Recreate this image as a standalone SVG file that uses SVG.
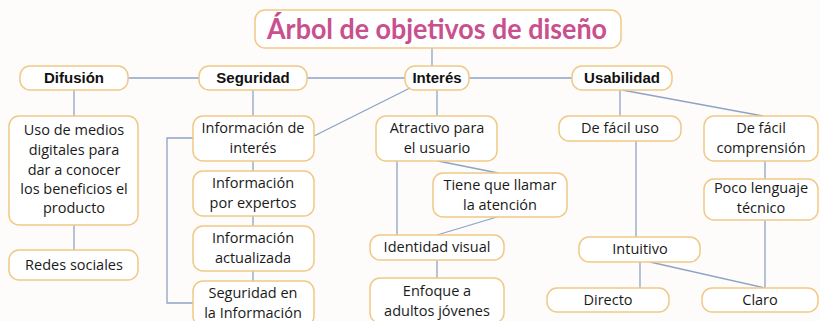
<svg xmlns="http://www.w3.org/2000/svg" width="820" height="321" viewBox="0 0 820 321">
<style>
.bg{fill:#fdfcfa}
.box{fill:#ffffff;stroke:#f0c987;stroke-width:1.5}
.t{font-family:"Open Sans","DejaVu Sans",sans-serif;font-size:14.5px;fill:#1a1a1a;text-anchor:middle}
.h{font-family:"Liberation Sans",Arial,sans-serif;font-size:15px;font-weight:bold;fill:#111;text-anchor:middle}
.title{font-family:"Lato","Noto Sans",sans-serif;font-size:28px;font-weight:bold;fill:#c9508e;text-anchor:middle}
.c{stroke:#8ea3c6;stroke-width:1.3;fill:none}
</style>
<rect class="bg" x="0" y="0" width="820" height="321"/>
<g id="connectors">
<line class="c" x1="432" y1="48" x2="432" y2="66"/>
<line class="c" x1="128" y1="78" x2="199" y2="78"/>
<line class="c" x1="307" y1="78" x2="405" y2="78"/>
<line class="c" x1="469" y1="78" x2="572" y2="78"/>
<line class="c" x1="74" y1="90" x2="74" y2="116"/>
<line class="c" x1="74" y1="225" x2="74" y2="250"/>
<line class="c" x1="253" y1="90" x2="253" y2="116"/>
<line class="c" x1="253" y1="161" x2="253" y2="171"/>
<line class="c" x1="253" y1="216" x2="253" y2="226"/>
<line class="c" x1="253" y1="271" x2="253" y2="281"/>
<polyline class="c" points="193,138 167,138 167,303 193,303"/>
<line class="c" x1="410" y1="88" x2="314" y2="136"/>
<line class="c" x1="437" y1="90" x2="437" y2="116"/>
<line class="c" x1="438" y1="161" x2="498" y2="173"/>
<line class="c" x1="397" y1="161" x2="397" y2="235"/>
<line class="c" x1="497" y1="217" x2="437" y2="235"/>
<line class="c" x1="437" y1="260" x2="437" y2="278"/>
<line class="c" x1="620" y1="90" x2="620" y2="116"/>
<line class="c" x1="622" y1="90" x2="763" y2="116"/>
<line class="c" x1="636" y1="141" x2="636" y2="237"/>
<line class="c" x1="765" y1="161" x2="765" y2="179"/>
<line class="c" x1="765" y1="220" x2="765" y2="288"/>
<line class="c" x1="640" y1="262" x2="640" y2="288"/>
<line class="c" x1="650" y1="262" x2="765" y2="288"/>
</g>
<g id="title"><rect class="box" x="255" y="10" width="366" height="38" rx="10"/><text class="title" x="437" y="39" textLength="340" lengthAdjust="spacingAndGlyphs">Árbol de objetivos de diseño</text></g>
<g id="difusion"><rect class="box" x="20" y="66" width="108" height="24" rx="10"/><text class="h" x="74" y="83">Difusión</text></g>
<g id="seguridad"><rect class="box" x="199" y="66" width="108" height="24" rx="10"/><text class="h" x="253" y="83">Seguridad</text></g>
<g id="interes"><rect class="box" x="405" y="66" width="64" height="24" rx="10"/><text class="h" x="437" y="83">Interés</text></g>
<g id="usabilidad"><rect class="box" x="572" y="66" width="100" height="24" rx="10"/><text class="h" x="622" y="83">Usabilidad</text></g>
<g id="uso"><rect class="box" x="9" y="116" width="129" height="109" rx="10"/><text class="t" x="74" y="135">Uso de medios<tspan x="74" dy="20">digitales para</tspan><tspan x="74" dy="19.5">dar a conocer</tspan><tspan x="74" dy="19.5">los beneficios el</tspan><tspan x="74" dy="19">producto</tspan></text></g>
<g id="redes"><rect class="box" x="9" y="250" width="129" height="30" rx="10"/><text class="t" x="74" y="270">Redes sociales</text></g>
<g id="info-interes"><rect class="box" x="193" y="116" width="121" height="45" rx="10"/><text class="t" x="253" y="133">Información de<tspan x="253" dy="20">interés</tspan></text></g>
<g id="info-expertos"><rect class="box" x="193" y="171" width="121" height="45" rx="10"/><text class="t" x="253" y="188">Información<tspan x="253" dy="20">por expertos</tspan></text></g>
<g id="info-actualizada"><rect class="box" x="193" y="226" width="121" height="45" rx="10"/><text class="t" x="253" y="243">Información<tspan x="253" dy="20">actualizada</tspan></text></g>
<g id="seg-info"><rect class="box" x="193" y="281" width="121" height="45" rx="10"/><text class="t" x="253" y="298">Seguridad en<tspan x="253" dy="20">la Información</tspan></text></g>
<g id="atractivo"><rect class="box" x="376" y="116" width="121" height="45" rx="10"/><text class="t" x="437" y="133">Atractivo para<tspan x="437" dy="20">el usuario</tspan></text></g>
<g id="tiene"><rect class="box" x="433" y="173" width="134" height="44" rx="10"/><text class="t" x="500" y="190">Tiene que llamar<tspan x="500" dy="20">la atención</tspan></text></g>
<g id="identidad"><rect class="box" x="370" y="235" width="134" height="25" rx="10"/><text class="t" x="437" y="252">Identidad visual</text></g>
<g id="enfoque"><rect class="box" x="370" y="278" width="134" height="45" rx="10"/><text class="t" x="437" y="296">Enfoque a<tspan x="437" dy="20">adultos jóvenes</tspan></text></g>
<g id="facil-uso"><rect class="box" x="559" y="116" width="122" height="25" rx="10"/><text class="t" x="620" y="133">De fácil uso</text></g>
<g id="facil-comp"><rect class="box" x="704" y="116" width="114" height="45" rx="10"/><text class="t" x="761" y="133">De fácil<tspan x="761" dy="20">comprensión</tspan></text></g>
<g id="poco"><rect class="box" x="704" y="179" width="114" height="41" rx="10"/><text class="t" x="761" y="193">Poco lenguaje<tspan x="761" dy="20">técnico</tspan></text></g>
<g id="intuitivo"><rect class="box" x="579" y="237" width="121" height="25" rx="10"/><text class="t" x="640" y="254">Intuitivo</text></g>
<g id="directo"><rect class="box" x="547" y="288" width="122" height="24" rx="10"/><text class="t" x="608" y="305">Directo</text></g>
<g id="claro"><rect class="box" x="702" y="288" width="116" height="24" rx="10"/><text class="t" x="760" y="305">Claro</text></g>
</svg>
